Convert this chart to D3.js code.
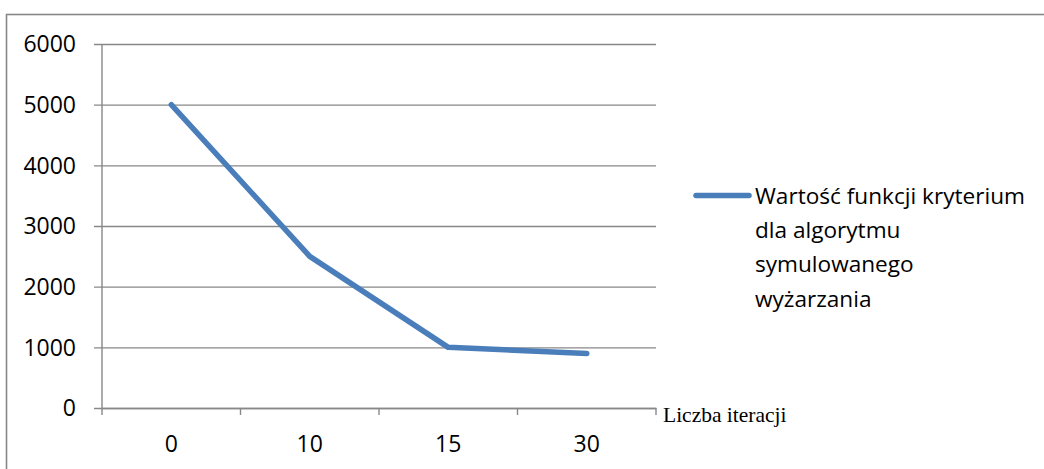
<!DOCTYPE html>
<html>
<head>
<meta charset="utf-8">
<script src="https://cdn.jsdelivr.net/npm/d3@7"></script>
<style>
  html, body { margin: 0; padding: 0; background: #fff; }
  svg { display: block; }
</style>
</head>
<body>
<svg id="chart" width="1044" height="469"></svg>
<script>
// Iteration counts on the category axis
const categories = ["0", "10", "15", "30"];
// Objective function value for simulated annealing
const values = [5000, 2500, 1000, 900];
// Value axis ticks
const yTicks = [0, 1000, 2000, 3000, 4000, 5000, 6000];
const seriesName = ["Wartość funkcji kryterium", "dla algorytmu", "symulowanego", "wyżarzania"];
const xAxisTitle = "Liczba iteracji";

const svg = d3.select("#chart");
const W = 1044, H = 469;
const plot = { left: 102, right: 656, top: 44, bottom: 408 };
const gridColor = "#888888";
const lineColor = "#4a7ebb";
const sans = "'Open Sans', sans-serif";

// chart area frame (runs past the right and bottom edges)
svg.append("rect")
  .attr("x", 6.5).attr("y", 14.5)
  .attr("width", W + 20).attr("height", H + 20)
  .attr("fill", "#fff")
  .attr("stroke", gridColor).attr("stroke-width", 1.6);

const x = d3.scaleBand().domain(categories).range([plot.left, plot.right]).paddingInner(0).paddingOuter(0);
const y = d3.scaleLinear().domain([0, 6000]).range([plot.bottom, plot.top]);

// horizontal gridlines + value axis
const yAxis = d3.axisLeft(y).tickValues(yTicks).tickFormat(d3.format("d"))
  .tickSize(-(plot.right - plot.left)).tickSizeOuter(0).tickPadding(26);
const gy = svg.append("g").attr("transform", `translate(${plot.left},0)`).call(yAxis);
gy.select(".domain").remove();
gy.selectAll(".tick line")
  .attr("x1", -8)
  .attr("stroke", gridColor).attr("stroke-width", 1.4);
gy.selectAll(".tick text")
  .attr("font-family", sans).attr("font-size", 23).attr("fill", "#000")
  .attr("dy", "0.34em");

// vertical axis line
svg.append("line")
  .attr("x1", plot.left).attr("x2", plot.left)
  .attr("y1", plot.top).attr("y2", plot.bottom)
  .attr("stroke", gridColor).attr("stroke-width", 1.4);

// category axis
const xAxis = d3.axisBottom(x).tickSize(0).tickPadding(28);
const gx = svg.append("g").attr("transform", `translate(0,${plot.bottom})`).call(xAxis);
gx.select(".domain").attr("stroke", gridColor).attr("stroke-width", 1.4);
gx.selectAll(".tick text")
  .attr("font-family", sans).attr("font-size", 23).attr("fill", "#000");
// tick marks between categories
const bounds = categories.map(c => x(c)).concat([x(categories[categories.length - 1]) + x.bandwidth()]);
svg.append("g").selectAll("line").data(bounds).join("line")
  .attr("x1", d => d).attr("x2", d => d)
  .attr("y1", plot.bottom).attr("y2", plot.bottom + 7)
  .attr("stroke", gridColor).attr("stroke-width", 1.4);

// axis title
svg.append("text")
  .attr("x", 663).attr("y", 422)
  .attr("font-family", "'Liberation Serif', 'Times New Roman', serif")
  .attr("font-size", 21.5).attr("fill", "#000")
  .text(xAxisTitle);

// data line
const line = d3.line()
  .x((d, i) => x(categories[i]) + x.bandwidth() / 2)
  .y(d => y(d));
svg.append("path")
  .datum(values)
  .attr("d", line)
  .attr("fill", "none")
  .attr("stroke", lineColor).attr("stroke-width", 5.5)
  .attr("stroke-linejoin", "round").attr("stroke-linecap", "round");

// legend
svg.append("line")
  .attr("x1", 696).attr("x2", 749)
  .attr("y1", 195.5).attr("y2", 195.5)
  .attr("stroke", lineColor).attr("stroke-width", 5.5)
  .attr("stroke-linecap", "round");
const leg = svg.append("text")
  .attr("font-family", sans).attr("font-size", 22.6).attr("fill", "#000");
seriesName.forEach((t, i) => {
  leg.append("tspan").attr("x", 755).attr("y", 204 + i * 34.2).text(t);
});
</script>
</body>
</html>
